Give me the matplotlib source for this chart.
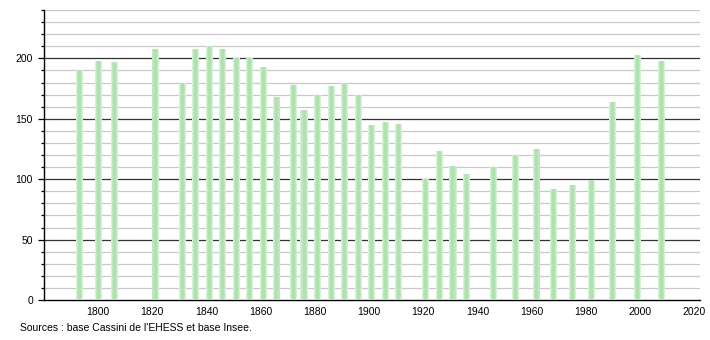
import matplotlib
matplotlib.use("Agg")
import matplotlib.pyplot as plt
from matplotlib.ticker import MultipleLocator

years = [1793, 1800, 1806, 1821, 1831, 1836, 1841, 1846, 1851, 1856, 1861, 1866,
         1872, 1876, 1881, 1886, 1891, 1896, 1901, 1906, 1911, 1921, 1926, 1931,
         1936, 1946, 1954, 1962, 1968, 1975, 1982, 1990, 1999, 2008]
population = [190, 198, 197, 208, 180, 208, 210, 208, 200, 200, 193, 168,
              178, 157, 170, 177, 180, 170, 145, 147, 146, 100, 123, 111,
              104, 110, 120, 125, 92, 95, 99, 164, 203, 198]
source_text = "Sources : base Cassini de l'EHESS et base Insee."

plt.rcParams['font.family'] = ['Liberation Sans', 'DejaVu Sans']
fig = plt.figure(figsize=(7.1, 3.4), dpi=100)
ax = fig.add_axes([44/710, 40/340, 656/710, 290/340])

# gradient-like bars: light wide base, darker narrower core
ax.bar(years, population, width=2.6, color='#d6f1d6', zorder=3, linewidth=0)
ax.bar(years, population, width=1.9, color='#bfe8bf', zorder=3, linewidth=0)
ax.bar(years, population, width=1.1, color='#b0e2b0', zorder=3, linewidth=0)

ax.set_xlim(1780, 2022.2)
ax.set_ylim(0, 240)

for v in range(10, 241, 10):
    if v % 50 == 0:
        ax.axhline(v, color='#333333', lw=0.9, zorder=2)
    else:
        ax.axhline(v, color='#c8c8c8', lw=0.9, zorder=1)

ax.yaxis.set_major_locator(MultipleLocator(50))
ax.yaxis.set_minor_locator(MultipleLocator(10))
ax.set_xticks(range(1800, 2021, 20))
ax.tick_params(axis='y', which='major', length=4, width=0.9, labelsize=7.5, pad=4)
ax.tick_params(axis='y', which='minor', length=2.5, width=0.9)
ax.tick_params(axis='x', which='both', length=0, labelsize=7.5, pad=5)

for s in ['top', 'right']:
    ax.spines[s].set_visible(False)
ax.spines['left'].set_color('black')
ax.spines['bottom'].set_color('black')
ax.spines['left'].set_linewidth(1)
ax.spines['bottom'].set_linewidth(1)

fig.text(20/710, 1 - 328/340, source_text, fontsize=7.5, va='center', ha='left')

fig.savefig('out.png', dpi=100)
